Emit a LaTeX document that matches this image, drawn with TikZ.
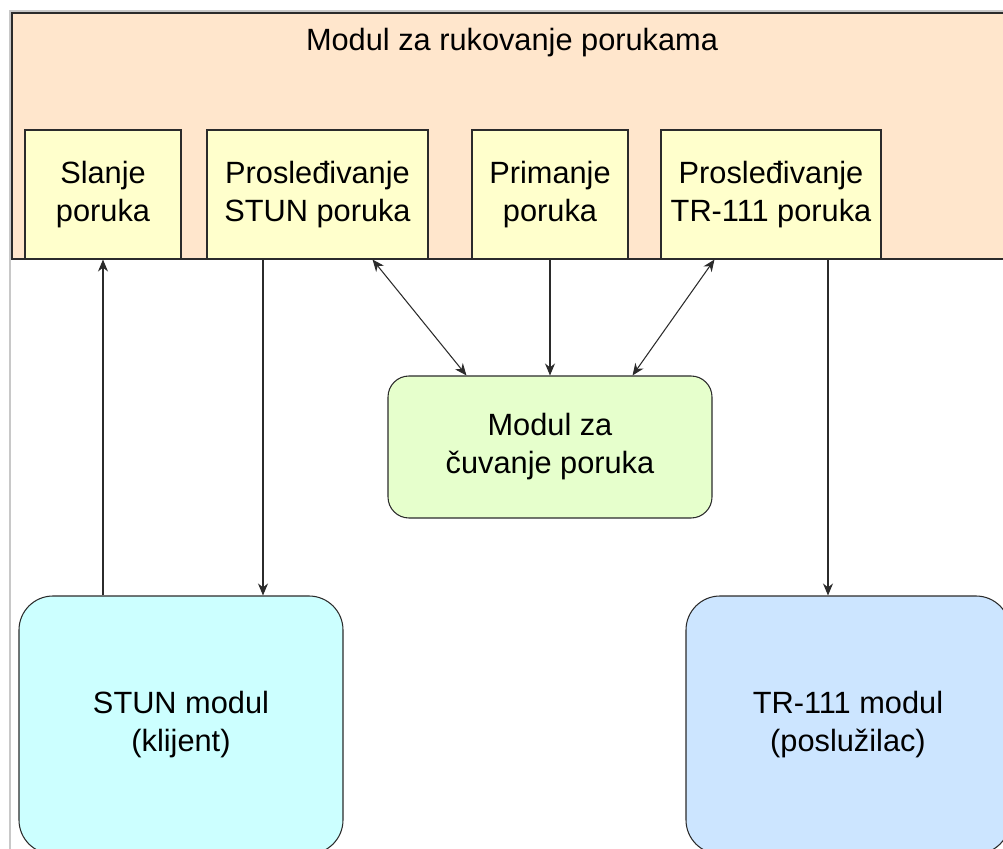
\documentclass[tikz,border=0pt]{standalone}
\usepackage{fontspec}
\setmainfont{Liberation Sans}
\usetikzlibrary{arrows.meta,positioning,calc}
\definecolor{msgpeach}{HTML}{FFE6CC}
\definecolor{subyellow}{HTML}{FFFFCC}
\definecolor{storegreen}{HTML}{E6FFCC}
\definecolor{stuncyan}{HTML}{CCFFFF}
\definecolor{trblue}{HTML}{CCE5FF}
\definecolor{edgegrey}{HTML}{2B2B2B}
\definecolor{framegrey}{HTML}{C8C8C8}
\tikzset{
  blk/.style={draw=edgegrey, line width=0.6pt, fill=#1, align=center,
              inner sep=3pt, font=\fontsize{17.5}{21.6}\selectfont},
  sbox/.style={blk=subyellow, minimum height=2.58cm},
  rbox/.style={blk=#1, rounded corners=0.68cm, minimum width=6.48cm,
               minimum height=5.16cm},
  flow/.style={-{Stealth[length=2.4mm,width=2mm]}, line width=0.6pt,
               draw=edgegrey},
  dflow/.style={{Stealth[length=2.4mm,width=2mm]}-{Stealth[length=2.4mm,width=2mm]},
                line width=0.6pt, draw=edgegrey},
}

\begin{document}
\begin{tikzpicture}
\useasboundingbox (0,0) rectangle (20.06,-16.98);
\clip (0,0) rectangle (20.06,-16.98);

% ========================= frame =========================================
\draw[framegrey, line width=0.6pt] (0.2,-16.98) -- (0.2,-0.22) -- (20.06,-0.22);

% ========================= message handling module =======================
\node[blk=msgpeach, minimum width=20cm, minimum height=4.92cm]
                                         at (10.24,-2.72) (rukovanje) {};
\node[font=\fontsize{17.5}{21.6}\selectfont, anchor=base]
                                         at (10.24,-1.02) (rukovanjetitle) {Modul za rukovanje porukama};

\node[sbox, minimum width=3.12cm]        at ( 2.06,-3.89) (slanje)   {Slanje\\poruka};
\node[sbox, minimum width=4.42cm]        at ( 6.35,-3.89) (stunfwd)  {Prosleđivanje\\STUN poruka};
\node[sbox, minimum width=3.12cm]        at (11.00,-3.89) (primanje) {Primanje\\poruka};
\node[sbox, minimum width=4.40cm]        at (15.42,-3.89) (trfwd)    {Prosleđivanje\\TR-111 poruka};

% ========================= storage and outer modules =====================
\node[blk=storegreen, rounded corners=0.42cm, minimum width=6.48cm, minimum height=2.84cm]
                                         at (11.00,-8.94) (cuvanje)  {Modul za\\čuvanje poruka};
\node[rbox=stuncyan]                     at ( 3.62,-14.50) (stun)    {STUN modul\\(klijent)};
\node[rbox=trblue]                       at (16.96,-14.50) (tr)      {TR-111 modul\\(poslužilac)};

% ========================= connectors ====================================
\draw[flow] (stun.north -| slanje.south) -- (slanje.south);
\draw[flow] ([xshift=-1.09cm]stunfwd.south) -- ([xshift=-1.09cm]stunfwd.south |- stun.north);
\draw[dflow] ([xshift=-1.12cm]stunfwd.south east) -- ([xshift=1.58cm]cuvanje.north west);
\draw[flow] (primanje.south) -- (cuvanje.north);
\draw[dflow] ([xshift=1.08cm]trfwd.south west) -- ([xshift=-1.60cm]cuvanje.north east);
\draw[flow] ([xshift=1.14cm]trfwd.south) -- ([xshift=1.14cm]trfwd.south |- tr.north);
\end{tikzpicture}
\end{document}
